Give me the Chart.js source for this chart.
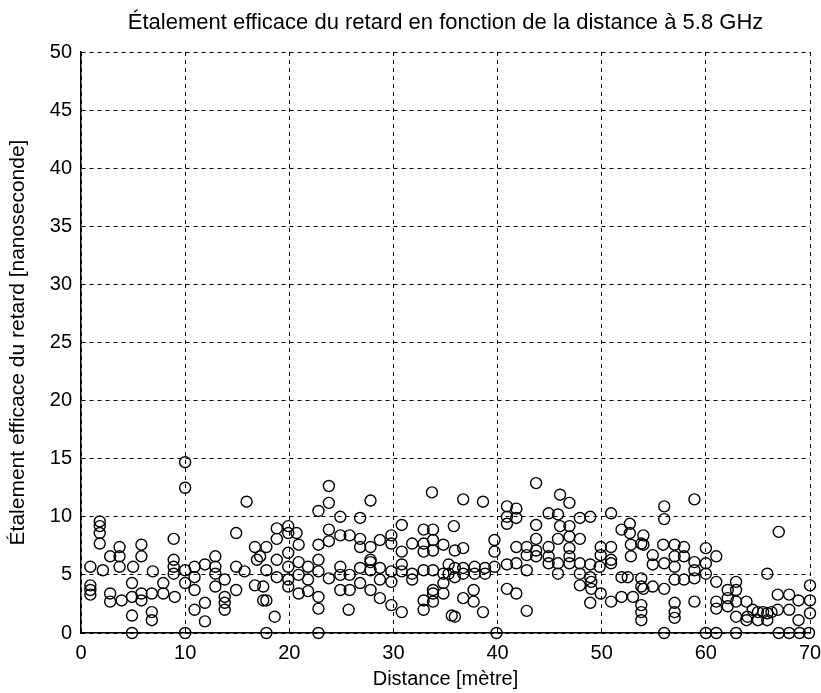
<!DOCTYPE html>
<html>
<head>
<meta charset="utf-8">
<script src="https://cdn.jsdelivr.net/npm/chart.js@4/dist/chart.umd.min.js"></script>
<style>
  html, body { margin: 0; padding: 0; background: #fff; }
  #wrap { width: 821px; height: 693px; }
</style>
</head>
<body>
<div id="wrap"><canvas id="chart"></canvas></div>
<script>
// RMS delay spread vs distance at 5.8 GHz — points as [distance m, spread ns]

const pointsNear = [
  [10.0,14.7],[10.0,12.5],[15.9,11.3],[1.8,9.6],[1.8,9.2],[1.8,8.6],[1.8,7.7],[14.9,8.6],[8.9,8.1],[3.7,7.4],
  [5.8,7.6],[5.8,6.6],[2.8,6.6],[3.7,6.6],[3.7,5.7],[12.9,6.6],[16.7,7.4],[8.9,6.3],[0.9,5.7],[2.1,5.4],
  [5.0,5.7],[6.9,5.3],[8.9,5.7],[8.9,5.1],[10.0,5.4],[10.9,5.7],[10.9,4.8],[11.9,5.9],[12.9,5.7],[12.9,5.1],
  [13.8,4.6],[14.9,5.7],[15.7,5.3],[16.9,6.3],[0.9,4.1],[0.9,3.7],[0.9,3.3],[2.8,3.4],[2.8,2.7],[3.9,2.8],
  [4.9,4.3],[4.9,3.1],[4.9,1.5],[4.9,0],[5.8,3.4],[5.8,2.8],[6.8,3.4],[6.8,1.8],[6.8,1.1],[7.9,4.3],
  [7.9,3.4],[9.0,3.1],[10.0,4.3],[10.9,3.7],[10.9,2.0],[11.9,2.6],[11.9,1.0],[12.9,4.0],[13.8,3.1],[13.8,2.6],
  [13.8,2.0],[14.9,3.7],[16.7,4.1],[17.8,2.8],[10.0,0],[17.8,0]
]

const pointsMid1 = [
  [23.8,12.65],[23.8,11.2],[22.8,10.5],[24.9,10.0],[27.8,11.4],[26.8,9.9],[33.7,12.1],[30.8,9.3],[32.9,8.9],[33.8,8.9],
  [35.8,9.2],[18.8,9.0],[19.9,9.2],[19.9,8.6],[20.7,8.6],[17.8,7.4],[18.8,8.1],[20.9,7.6],[22.8,7.6],[23.8,8.9],
  [23.8,7.9],[24.9,8.4],[25.8,8.4],[26.8,8.1],[26.8,7.4],[27.8,7.4],[27.8,6.3],[28.7,8.0],[29.8,8.4],[29.8,7.7],
  [30.8,7.0],[31.8,7.7],[32.9,7.7],[32.9,7.0],[33.8,8.0],[33.8,7.1],[34.8,7.6],[35.9,7.1],[17.2,6.6],[17.8,5.4],
  [18.8,6.3],[18.8,4.8],[19.9,6.9],[19.9,5.7],[19.9,4.6],[20.9,6.1],[20.9,5.0],[21.8,5.7],[21.8,4.6],[22.8,6.3],
  [22.8,5.3],[23.8,4.7],[24.9,5.7],[24.9,5.0],[24.9,3.7],[25.8,5.0],[25.8,3.7],[26.8,5.6],[26.8,4.3],[27.8,6.1],
  [27.8,5.4],[27.8,3.7],[28.7,5.6],[28.7,4.6],[28.7,3.0],[29.8,5.3],[29.8,4.4],[30.8,5.9],[30.8,5.3],[31.8,5.1],
  [31.8,4.6],[32.9,5.4],[33.8,5.4],[33.8,3.7],[34.8,5.1],[34.8,4.3],[17.5,4.0],[17.5,2.8],[18.6,1.4],[19.9,4.0],
  [20.9,3.4],[21.8,3.6],[22.8,3.1],[22.8,2.1],[25.7,2.0],[29.8,2.4],[30.8,1.8],[32.9,2.8],[32.9,2.0],[33.8,3.4],
  [33.8,2.7],[34.8,3.4],[35.9,1.4],[22.8,0]
]

const pointsMid2 = [
  [43.7,12.9],[36.7,11.5],[38.6,11.3],[40.9,10.9],[40.9,10.0],[40.9,9.4],[41.8,10.7],[41.8,9.9],[46.0,11.9],[46.9,11.2],
  [44.9,10.3],[45.8,10.2],[47.9,9.9],[48.9,10.0],[50.9,10.3],[43.7,9.3],[46.0,9.2],[46.9,9.2],[46.9,8.3],[51.9,8.9],
  [52.7,9.4],[52.7,8.6],[53.8,7.7],[39.7,8.0],[39.7,7.0],[43.7,8.1],[45.8,8.1],[47.9,8.1],[36.7,7.3],[41.8,7.4],
  [42.8,7.4],[42.8,6.7],[43.7,7.1],[44.9,7.4],[46.9,7.3],[46.9,6.6],[49.9,7.4],[49.9,6.7],[50.9,7.4],[50.9,6.3],
  [52.8,7.6],[52.8,6.6],[35.3,5.9],[35.3,5.1],[35.9,5.6],[36.7,5.6],[37.8,5.7],[38.8,5.6],[39.7,5.7],[40.9,5.9],
  [41.8,6.0],[35.9,4.8],[36.7,5.1],[37.8,5.1],[38.8,5.1],[42.8,5.4],[43.7,6.6],[44.9,6.6],[44.9,6.0],[45.8,6.0],
  [45.8,5.1],[46.9,6.0],[47.9,6.0],[47.9,5.1],[48.9,5.9],[48.9,4.8],[49.8,5.7],[50.9,6.0],[51.9,4.8],[53.8,4.7],
  [53.8,4.0],[47.9,4.1],[49.0,4.4],[49.0,3.8],[49.9,3.4],[36.7,3.0],[37.7,3.7],[37.7,2.7],[38.6,1.8],[40.9,3.8],
  [41.8,3.4],[42.8,1.9],[48.9,2.6],[50.9,2.7],[51.9,3.1],[53.0,3.1],[53.8,2.4],[53.8,1.8],[53.8,1.1],[35.6,1.5],
  [39.9,0]
]

const pointsFar = [
  [58.9,11.5],[56.0,10.9],[56.0,9.8],[67.0,8.7],[54.0,8.4],[54.0,7.6],[55.9,7.6],[57.0,7.6],[57.9,7.4],[60.0,7.3],
  [61.0,6.6],[54.9,6.7],[54.9,5.9],[56.0,6.0],[57.0,6.6],[57.0,5.7],[57.9,6.6],[58.9,6.1],[58.9,5.4],[60.0,6.0],
  [60.0,5.1],[65.9,5.1],[52.5,4.8],[54.0,3.8],[54.9,4.0],[56.0,3.8],[57.0,4.6],[57.9,4.6],[58.9,4.7],[61.0,4.4],
  [62.1,3.7],[62.9,4.4],[62.9,3.7],[57.0,2.6],[57.0,1.8],[57.0,1.3],[58.9,2.7],[61.0,2.7],[61.0,2.1],[62.1,3.0],
  [62.1,2.3],[62.9,2.7],[62.9,1.4],[63.9,2.7],[63.9,1.1],[65.0,1.8],[65.0,1.1],[65.9,1.7],[65.9,1.1],[66.9,3.3],
  [66.9,2.0],[68.0,3.3],[68.0,2.0],[68.9,2.8],[68.9,1.1],[70.0,4.1],[70.0,2.8],[70.0,1.7],[64.0,1.4],[64.5,2.0],
  [65.5,1.8],[66.3,1.8],[56.0,0],[60.0,0],[61.0,0],[62.9,0],[67.0,0],[68.0,0],[69.0,0],[69.9,0]
]

const xTicks = [0, 10, 20, 30, 40, 50, 60, 70]
const yTicks = [0, 5, 10, 15, 20, 25, 30, 35, 40, 45, 50]
const titleText = "Étalement efficace du retard en fonction de la distance à 5.8 GHz"

const font = "'Liberation Sans', Arial, sans-serif"

const allPoints = [...pointsNear, ...pointsMid1, ...pointsMid2, ...pointsFar]
  .map(([x, y]) => ({ x, y }))

const axisCommon = {
  grid: { color: "#000", lineWidth: 1, drawTicks: false },
  border: { display: true, color: "#000", width: 1.5, dash: [4, 4] },
}

// MATLAB centres the title over the axes box, not the whole figure
const plotTitle = {
  id: "plotTitle",
  afterDraw(chart) {
    const { ctx, chartArea } = chart
    ctx.save()
    ctx.fillStyle = "#000"
    ctx.font = `22px ${font}`
    ctx.textAlign = "center"
    ctx.textBaseline = "middle"
    ctx.fillText(titleText, (chartArea.left + chartArea.right) / 2, 23)
    ctx.restore()
  },
}

new Chart(document.getElementById("chart"), {
  type: "scatter",
  data: {
    datasets: [{
      data: allPoints,
      pointStyle: "circle",
      pointRadius: 5.5,
      pointBorderWidth: 1.4,
      borderColor: "#000",
      backgroundColor: "rgba(0,0,0,0)",
      clip: false,
    }],
  },
  options: {
    responsive: true,
    maintainAspectRatio: false,
    animation: false,
    layout: { padding: { left: 0, right: 0, top: 52, bottom: 0 } },
    plugins: {
      legend: { display: false },
      tooltip: { enabled: false },
      title: { display: false },
    },
    scales: {
      x: {
        ...axisCommon,
        type: "linear",
        min: 0,
        max: 70,
        afterBuildTicks: (s) => { s.ticks = xTicks.map(v => ({ value: v })) },
        afterFit: (s) => { s.height = 60; s.paddingRight = 11; s.paddingLeft = 0 },
        ticks: { color: "#000", padding: 8, font: { family: font, size: 20 } },
        title: {
          display: true,
          text: "Distance [mètre]",
          color: "#000",
          font: { family: font, size: 20 },
          padding: { top: 0, bottom: 2 },
        },
      },
      y: {
        ...axisCommon,
        type: "linear",
        min: 0,
        max: 50,
        afterBuildTicks: (s) => { s.ticks = yTicks.map(v => ({ value: v })) },
        afterFit: (s) => { s.width = 81 },
        ticks: { color: "#000", padding: 9, font: { family: font, size: 20 } },
        title: {
          display: true,
          text: "Étalement efficace du retard [nanoseconde]",
          color: "#000",
          font: { family: font, size: 21 },
          padding: { top: 6, bottom: 0 },
        },
      },
    },
  },
  plugins: [plotTitle],
})
</script>
</body>
</html>
